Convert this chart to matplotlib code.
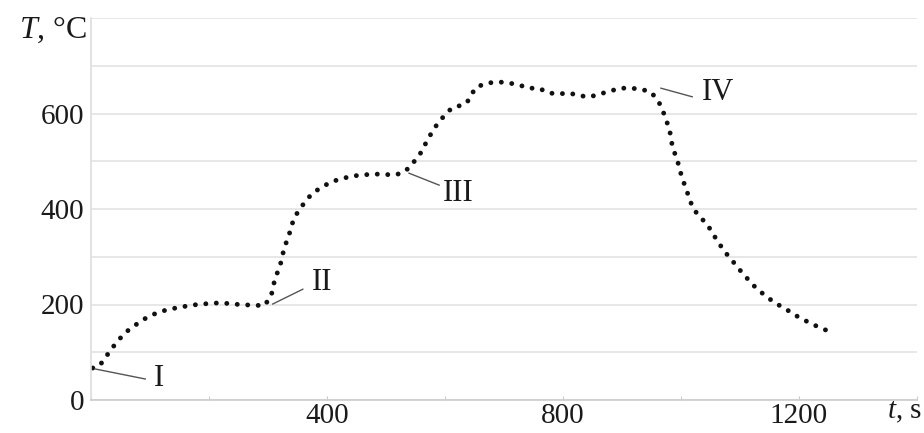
import matplotlib.pyplot as plt

plt.rcParams['font.family'] = ['Liberation Serif', 'DejaVu Serif']
plt.rcParams['mathtext.fontset'] = 'custom'
plt.rcParams['mathtext.rm'] = 'Liberation Serif'
plt.rcParams['mathtext.it'] = 'Liberation Serif:italic'

# time (s) and temperature (C)
t = [3, 14, 25, 36, 47, 59, 73, 88, 103, 120, 137, 154, 173, 190, 207, 224,
     242, 259, 276, 293,
     305, 312, 319, 324, 327, 334, 339, 344, 354, 364, 376, 392, 407, 424,
     442, 459, 476, 495, 512, 527,
     541, 551, 561, 569, 578, 588, 600, 612, 624, 637, 644, 654,
     673, 692, 708, 725, 742, 759, 776, 793, 810, 829, 846, 863, 880, 897,
     915, 932, 949, 959,
     968, 973, 980, 983, 986, 993, 997, 1002, 1008, 1014, 1020, 1032, 1044,
     1053, 1063, 1073, 1085, 1095, 1107, 1119, 1131, 1146, 1159, 1175, 1190,
     1205, 1222, 1237, 1254]
T = [67, 71, 90, 109, 126, 142, 155, 168, 178, 186, 191, 195, 199, 201, 203, 203,
     201, 199, 199, 197,
     216, 255, 276, 297, 318, 339, 360, 381, 400, 417, 434, 446, 457, 463,
     469, 471, 473, 473, 471, 475,
     488, 505, 521, 542, 561, 580, 597, 612, 616, 622, 639, 656,
     664, 666, 664, 660, 653, 653, 643, 641, 643, 637, 635, 641, 647, 653,
     653, 651, 645, 630,
     612, 591, 570, 549, 526, 507, 486, 465, 444, 423, 402, 383, 369,
     350, 331, 312, 295, 279, 262, 245, 230, 216, 203, 193, 180,
     170, 159, 151, 142]

# stage labels: text, text position, leader line start, leader line end
stages = ['I', 'II', 'III', 'IV']
text_pos = [(115, 46), (392, 247), (622, 433), (1063, 643)]
lead_start = [(7, 65), (308, 201), (539, 475), (966, 653)]
lead_end = [(92, 44), (359, 232), (590, 450), (1019, 635)]

fig = plt.figure(figsize=(9.24, 4.33), dpi=100)
ax = fig.add_axes([91 / 924, 1 - 400 / 433, 826 / 924, 382 / 433])

ax.plot(t, T, color='#111111', linewidth=3.5,
        linestyle=(0, (0.01, 2.15)), dash_capstyle='round')

for name, tp, a, b in zip(stages, text_pos, lead_start, lead_end):
    ax.plot([a[0], b[0]], [a[1], b[1]], color='#555555', linewidth=1.0)
    ax.text(tp[0], tp[1], name, fontsize=22, ha='center', va='center',
            color='#1a1a1a')

ax.set_xlim(0, 1400)
ax.set_ylim(0, 800)

ax.set_xticks(range(0, 1401, 200))
ax.set_xticklabels(['' if v not in (400, 800, 1200) else str(v)
                    for v in range(0, 1401, 200)])
ax.set_yticks(range(0, 801, 100))
ax.set_yticklabels(['' if v not in (0, 200, 400, 600) else str(v)
                    for v in range(0, 801, 100)])

ax.tick_params(axis='x', direction='in', length=3, color='#cccccc',
               labelsize=21, labelcolor='#1a1a1a', pad=2)
ax.tick_params(axis='y', length=0, labelsize=21, labelcolor='#1a1a1a', pad=5)

ax.grid(axis='y', color='#e3e3e3', linewidth=1.2)
ax.set_axisbelow(True)
for side in ['top', 'right']:
    ax.spines[side].set_visible(False)
ax.spines['left'].set_color('#dddddd')
ax.spines['bottom'].set_color('#cccccc')
ax.spines['left'].set_linewidth(1.2)
ax.spines['bottom'].set_linewidth(1.2)

fig.text(87 / 924, 1 - 30 / 433, r'$T$, °C', fontsize=23, ha='right',
         va='center', color='#1a1a1a')
fig.text(922 / 924, 1 - 412 / 433, r'$t$, s', fontsize=21, ha='right',
         va='center', color='#1a1a1a')

fig.savefig('out.png', dpi=100)
